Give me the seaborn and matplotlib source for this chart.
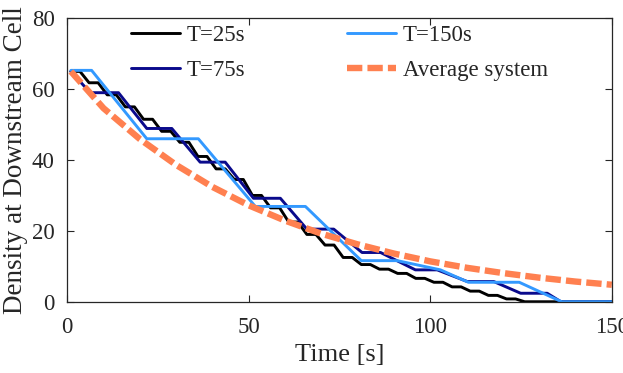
import numpy as np
import pandas as pd
import matplotlib
matplotlib.use("Agg")
import matplotlib.pyplot as plt
import seaborn as sns

# values
t25 = [1, 3.5, 6, 8.5, 11, 13.5, 16, 18.5, 21, 23.5, 26, 28.5, 31, 33.5, 36, 38.5,
       41, 43.5, 46, 48.5, 51, 53.5, 56, 58.5, 61, 63.5, 66, 68.5, 71, 73.5, 76, 78.5,
       81, 83.5, 86, 88.5, 91, 93.5, 96, 98.5, 101, 103.5, 106, 108.5, 111, 113.5,
       116, 118.5, 121, 123.5, 126, 150]
d25 = [65, 65, 61.8, 61.8, 58.4, 58.4, 55, 55, 51.5, 51.5, 48.1, 48.1, 45, 45, 41, 41,
       37.5, 37.5, 34.5, 34.5, 30, 30, 26.5, 26.5, 22.5, 22.5, 19, 19, 16, 16, 12.5, 12.5,
       10.5, 10.5, 9.2, 9.2, 8, 8, 6.6, 6.6, 5.5, 5.5, 4.2, 4.2, 3, 3,
       1.8, 1.8, 0.8, 0.8, 0, 0]

t75 = [1, 6.3, 14.1, 21.9, 28.8, 36.6, 43.5, 51.3, 58.7, 66, 73.4, 81.2, 86.3,
       95.9, 101.9, 110.2, 117.5, 124.9, 132.2, 136, 150]
d75 = [65, 59, 59, 48.9, 48.9, 39.4, 39.4, 29.2, 29.2, 20.5, 20.5, 13.9, 13.9,
       9.0, 9.0, 5.7, 5.7, 2.4, 2.4, 0, 0]

t150 = [1, 6.7, 21.9, 36.1, 51.8, 65.6, 81, 90.9, 102.8, 110.5, 124.5, 136.2, 150]
d150 = [65.3, 65.3, 46, 46, 26.9, 26.9, 11.6, 11.6, 9.0, 5.5, 5.5, 0, 0]

t_avg = [1, 10, 20, 30, 40, 50, 60, 70, 80, 90, 100, 110, 120, 130, 140, 150]
d_avg = [65, 54.6, 45.9, 38.6, 32.4, 27.2, 22.9, 19.2, 16.2, 13.6, 11.4, 9.6,
         8.1, 6.8, 5.7, 4.8]

sns.set_style("ticks")
plt.rcParams['font.family'] = ['Liberation Serif', 'DejaVu Serif']

fig = plt.figure(figsize=(6.23, 3.73), dpi=100)
ax = fig.add_axes([0.108, 0.191, 0.874, 0.760])

sns.lineplot(x=t25, y=d25, ax=ax, color='black', lw=2.1, label='T=25s',
             estimator=None, sort=False)
sns.lineplot(x=t75, y=d75, ax=ax, color='#0A0A8C', lw=2.1, label='T=75s',
             estimator=None, sort=False)
sns.lineplot(x=t150, y=d150, ax=ax, color='#3399FF', lw=2.1, label='T=150s',
             estimator=None, sort=False)
sns.lineplot(x=t_avg, y=d_avg, ax=ax, color='#FF8050', lw=4.6, label='Average system',
             estimator=None, sort=False, dashes=False)
ax.lines[-1].set_dashes((2.4, 0.8))

ax.set_xlim(0, 150)
ax.set_ylim(0, 80)
ax.set_xticks([0, 50, 100, 150])
ax.set_yticks([0, 20, 40, 60, 80])
ax.tick_params(direction='in', length=5, width=0.8, colors='#262626',
               labelsize=16.5, top=True, right=True, pad=9)
ax.tick_params(axis='x', pad=11)
for s in ax.spines.values():
    s.set_visible(True)
    s.set_linewidth(0.9)
    s.set_color('#262626')

ax.set_xlabel('Time [s]', fontsize=19, labelpad=4)
ax.set_ylabel('Density at Downstream Cell', fontsize=19.5, labelpad=3)

leg = ax.legend(ncol=2, frameon=False, fontsize=16.5, loc='upper left',
                bbox_to_anchor=(0.1, 1.008), handlelength=2.15, handletextpad=0.3,
                columnspacing=4.4, labelspacing=0.62, borderaxespad=0)

fig.savefig('out.png', dpi=100)
